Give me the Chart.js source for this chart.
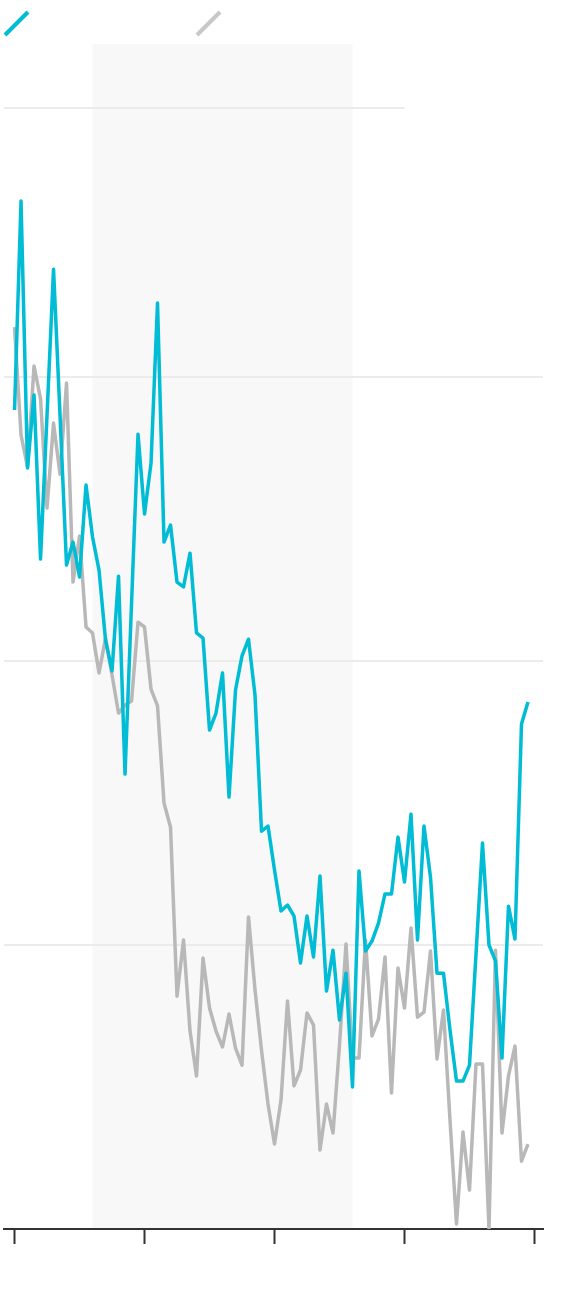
<!DOCTYPE html>
<html>
<head>
<meta charset="utf-8">
<script src="https://cdn.jsdelivr.net/npm/chart.js@4/dist/chart.umd.min.js"></script>
<style>
  html, body { margin: 0; padding: 0; background: #ffffff; }
  #wrap { width: 588px; height: 1298px; position: relative; }
</style>
</head>
<body>
<div id="wrap"><canvas id="c"></canvas></div>
<script>
// Period index for each observation
const periods = [0,1,2,3,4,5,6,7,8,9,10,11,12,13,14,15,16,17,18,19,
  20,21,22,23,24,25,26,27,28,29,30,31,32,33,34,35,36,37,38,39,
  40,41,42,43,44,45,46,47,48,49,50,51,52,53,54,55,56,57,58,59,
  60,61,62,63,64,65,66,67,68,69,70,71,72,73,74,75,76,77,78,79];

// Series 1 (teal)
const seriesA = [28.84,36.20,26.80,29.37,23.59,28.66,33.80,28.66,23.38,24.19,
  22.96,26.20,24.37,23.20,20.74,19.65,22.99,16.02,22.01,27.99,
  25.18,26.97,32.61,24.19,24.79,22.78,22.61,23.80,20.99,20.81,
  17.57,18.17,19.58,15.21,18.98,20.18,20.77,18.80,14.01,14.19,
  12.64,11.20,11.41,11.02,9.37,11.02,9.58,12.43,8.38,9.82,
  7.36,9.01,5.00,12.61,9.79,10.14,10.77,11.80,11.80,13.80,
  12.22,14.61,10.18,14.19,12.39,9.01,9.01,7.01,5.21,5.21,
  5.77,9.68,13.59,10.00,9.44,6.02,11.37,10.21,17.78,18.56];

// Series 2 (grey)
const seriesB = [31.76,27.96,26.83,30.39,29.23,25.39,28.38,26.58,29.79,22.78,
  24.40,21.20,20.99,19.58,20.81,19.51,18.17,18.45,18.59,21.37,
  21.20,19.01,18.42,15.00,14.15,8.20,10.18,6.97,5.39,9.54,
  7.78,6.97,6.41,7.57,6.37,5.77,10.99,8.42,6.30,4.40,
  2.99,4.54,8.03,5.04,5.60,7.61,7.18,2.78,4.40,3.38,
  6.48,10.04,6.02,6.02,10.18,6.80,7.39,9.58,4.79,9.19,
  7.78,10.60,7.46,7.64,9.79,5.99,7.71,3.84,0.18,3.42,
  1.37,5.81,5.81,0.00,9.82,3.38,5.39,6.44,2.39,2.99];

// Axis ticks
const xTicks = [0, 20, 40, 60, 80];
const yTicks = [10, 20, 30];

// Highlighted period (start/end index) and reference line
const shadeRange = [12, 52];
const refLine = { value: 39.47, endIndex: 60 };

const TEAL = '#00bcd4';
const GREY = '#b8b8b8';

const shadePlugin = {
  id: 'shade',
  beforeDraw(chart) {
    const { ctx, chartArea, scales } = chart;
    const x1 = scales.x.getPixelForValue(shadeRange[0]);
    const x2 = scales.x.getPixelForValue(shadeRange[1]);
    ctx.save();
    ctx.fillStyle = '#f8f8f8';
    ctx.fillRect(x1, chartArea.top, x2 - x1, chartArea.bottom - chartArea.top);
    ctx.restore();
  },
  beforeDatasetsDraw(chart) {
    const { ctx, chartArea, scales } = chart;
    const y = Math.round(scales.y.getPixelForValue(refLine.value));
    const xe = scales.x.getPixelForValue(refLine.endIndex);
    ctx.save();
    ctx.strokeStyle = '#ebebeb';
    ctx.lineWidth = 2;
    ctx.beginPath();
    ctx.moveTo(chartArea.left, y);
    ctx.lineTo(xe, y);
    ctx.stroke();
    ctx.restore();
  }
};

const legendPlugin = {
  id: 'slashLegend',
  afterDraw(chart) {
    const { ctx } = chart;
    const starts = [5, 197];
    chart.data.datasets.forEach((ds, i) => {
      ctx.save();
      ctx.strokeStyle = ds.legendColor || ds.borderColor;
      ctx.lineWidth = 4;
      ctx.lineCap = 'butt';
      ctx.beginPath();
      ctx.moveTo(starts[i], 35);
      ctx.lineTo(starts[i] + 23, 12);
      ctx.stroke();
      ctx.restore();
    });
  }
};

new Chart(document.getElementById('c'), {
  type: 'line',
  data: {
    labels: periods,
    datasets: [
      { label: 'A', data: seriesA, borderColor: TEAL, borderWidth: 3.5, pointRadius: 0, tension: 0, borderJoinStyle: 'round' },
      { label: 'B', data: seriesB, borderColor: GREY, legendColor: '#c8c8c8', borderWidth: 3.5, pointRadius: 0, tension: 0, borderJoinStyle: 'round' }
    ]
  },
  options: {
    responsive: true,
    maintainAspectRatio: false,
    animation: false,
    layout: { padding: { top: 44, left: 4, right: 45, bottom: 54 } },
    plugins: { legend: { display: false }, tooltip: { enabled: false } },
    scales: {
      x: {
        type: 'linear',
        min: -1.62,
        max: 81.31,
        afterBuildTicks: (s) => { s.ticks = xTicks.map(v => ({ value: v })); },
        ticks: { display: false },
        grid: { drawOnChartArea: false, drawTicks: true, tickLength: 15, tickColor: '#333333', tickWidth: 2 },
        border: { display: true, color: '#333333', width: 2 }
      },
      y: {
        min: 0,
        max: 41.73,
        afterBuildTicks: (s) => { s.ticks = yTicks.map(v => ({ value: v })); },
        ticks: { display: false },
        grid: { color: '#ebebeb', lineWidth: 2, drawTicks: false },
        border: { display: false }
      }
    }
  },
  plugins: [shadePlugin, legendPlugin]
});
</script>
</body>
</html>
